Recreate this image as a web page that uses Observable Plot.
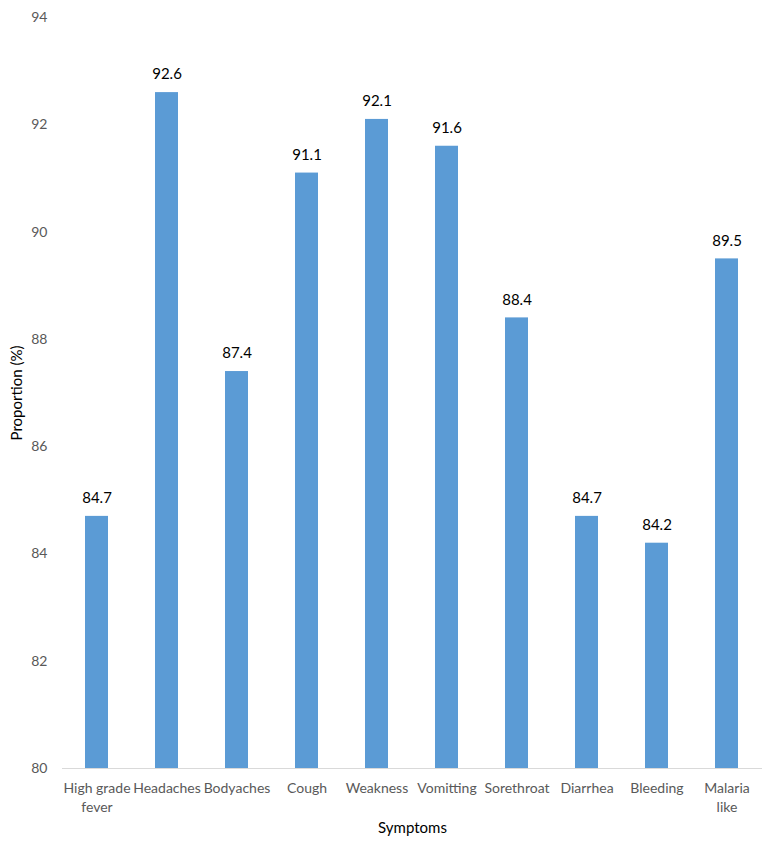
<!DOCTYPE html>
<html><head><meta charset="utf-8">
<script src="https://cdn.jsdelivr.net/npm/d3@7"></script>
<script src="https://cdn.jsdelivr.net/npm/@observablehq/plot@0.6"></script>
<style>body{margin:0;background:#fff;font-family:Lato,"Open Sans",sans-serif;}</style>
</head><body><div id="chart"></div>
<script>
const symptoms = ["High grade\nfever","Headaches","Bodyaches","Cough","Weakness","Vomitting","Sorethroat","Diarrhea","Bleeding","Malaria\nlike"];
const proportions = [84.7,92.6,87.4,91.1,92.1,91.6,88.4,84.7,84.2,89.5];
const yTicks = [80,82,84,86,88,90,92,94];
const data = symptoms.map((s,i)=>({symptom:s, value:proportions[i]}));

const chart = Plot.plot({
  width: 772, height: 843,
  marginLeft: 62, marginRight: 10, marginTop: 17, marginBottom: 75,
  style: {fontFamily: "Lato, 'Open Sans', sans-serif", fontSize: "14px", color: "#595959", background: "#fff"},
  x: {domain: symptoms, paddingInner: 0.67, paddingOuter: 0.335, label: null},
  y: {domain: [80, 94], ticks: yTicks, label: null},
  marks: [
    Plot.barY(data, {x: "symptom", y1: 80, y2: "value", fill: "#5b9bd5"}),
    Plot.ruleY([80], {stroke: "#d9d9d9", strokeWidth: 1}),
    Plot.axisY({ticks: yTicks, tickSize: 0, tickPadding: 15, fontSize: 14, fill: "#595959", label: null}),
    Plot.axisX({tickSize: 0, tickPadding: 12, fontSize: 14, fill: "#595959", label: null, lineHeight: 1.3}),
    Plot.text(data, {x: "symptom", y: "value", text: d => d.value.toFixed(1), dy: -18, fontSize: 15, fill: "#000"}),
    Plot.text(["Symptoms"], {frameAnchor: "bottom", dy: 64, fontSize: 15, fill: "#000", text: d => d}),
    Plot.text(["Proportion (%)"], {frameAnchor: "left", textAnchor: "middle", dx: -45, rotate: -90, fontSize: 15, fill: "#000", text: d => d})
  ]
});
document.getElementById("chart").appendChild(chart);
</script></body></html>
